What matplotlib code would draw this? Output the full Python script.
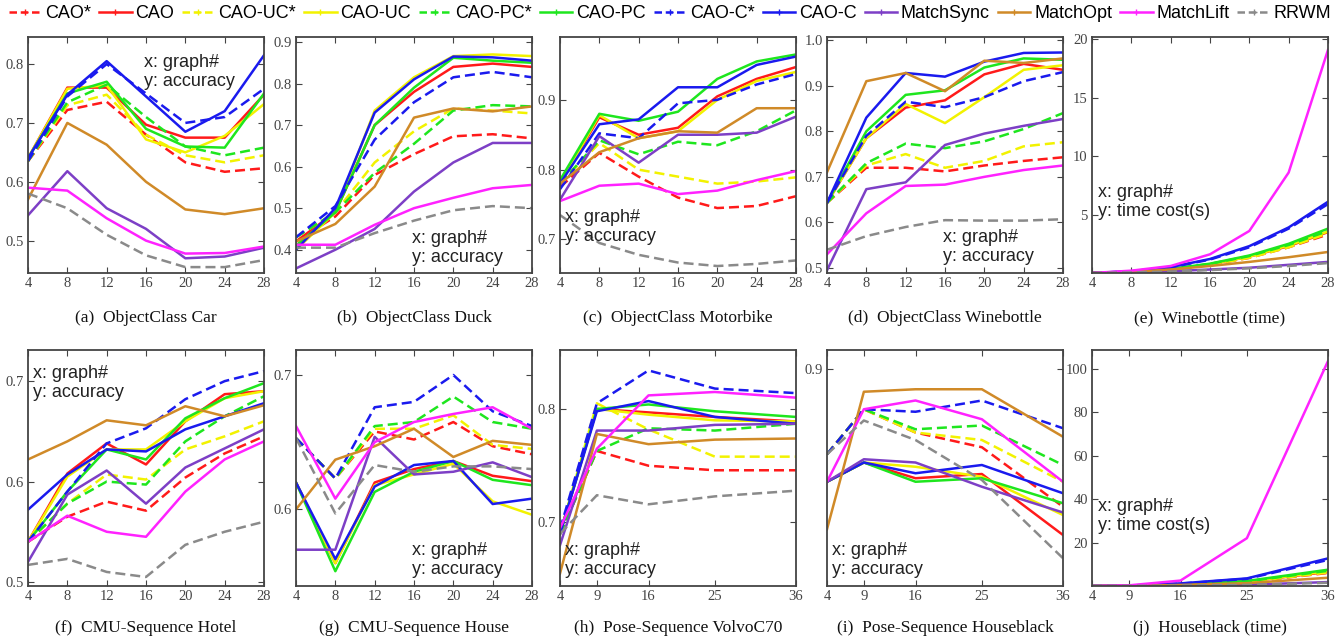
# Accuracy / time curves for multi-graph matching methods (10 panels)
import matplotlib
matplotlib.use('Agg')
import matplotlib.pyplot as plt
from matplotlib.lines import Line2D
from matplotlib.ticker import FormatStrFormatter

# series order: CAO*, CAO, CAO-UC*, CAO-UC, CAO-PC*, CAO-PC, CAO-C*, CAO-C,
#               MatchSync, MatchOpt, MatchLift, RRWM
names = ['CAO*', 'CAO', 'CAO-UC*', 'CAO-UC', 'CAO-PC*', 'CAO-PC', 'CAO-C*', 'CAO-C',
         'MatchSync', 'MatchOpt', 'MatchLift', 'RRWM']
colors = ['#ff1a1a', '#ff1a1a', '#f2f200', '#f2f200', '#1ee61e', '#1ee61e', '#1a1aee', '#1a1aee',
          '#7d3fc6', '#d08a28', '#ff22ff', '#8a8a8a']
styles = ['--', '-', '--', '-', '--', '-', '--', '-', '-', '-', '-', '--']

x_obj = [4, 8, 12, 16, 20, 24, 28]
x_pose = [4, 9, 16, 25, 36]

car = [
    [0.635, 0.722, 0.736, 0.68, 0.633, 0.617, 0.623],
    [0.64, 0.76, 0.76, 0.697, 0.675, 0.675, 0.748],
    [0.635, 0.73, 0.748, 0.68, 0.645, 0.633, 0.645],
    [0.64, 0.758, 0.764, 0.672, 0.65, 0.678, 0.732],
    [0.635, 0.735, 0.765, 0.71, 0.66, 0.645, 0.658],
    [0.64, 0.75, 0.77, 0.69, 0.66, 0.658, 0.75],
    [0.635, 0.745, 0.80, 0.75, 0.70, 0.71, 0.758],
    [0.64, 0.748, 0.805, 0.745, 0.685, 0.72, 0.815],
    [0.543, 0.618, 0.555, 0.52, 0.47, 0.473, 0.488],
    [0.57, 0.70, 0.663, 0.60, 0.553, 0.545, 0.555],
    [0.59, 0.585, 0.538, 0.50, 0.478, 0.479, 0.49],
    [0.58, 0.555, 0.51, 0.475, 0.455, 0.455, 0.467],
]
duck = [
    [0.42, 0.48, 0.58, 0.63, 0.673, 0.678, 0.668],
    [0.42, 0.49, 0.70, 0.78, 0.84, 0.848, 0.84],
    [0.43, 0.49, 0.61, 0.685, 0.74, 0.735, 0.728],
    [0.40, 0.49, 0.735, 0.815, 0.866, 0.87, 0.866],
    [0.43, 0.49, 0.585, 0.655, 0.735, 0.748, 0.745],
    [0.41, 0.49, 0.70, 0.79, 0.862, 0.855, 0.85],
    [0.43, 0.505, 0.665, 0.755, 0.815, 0.828, 0.815],
    [0.40, 0.50, 0.73, 0.81, 0.865, 0.863, 0.855],
    [0.355, 0.40, 0.45, 0.54, 0.61, 0.657, 0.657],
    [0.42, 0.462, 0.552, 0.718, 0.74, 0.733, 0.745],
    [0.412, 0.412, 0.46, 0.50, 0.525, 0.548, 0.556],
    [0.405, 0.405, 0.44, 0.47, 0.495, 0.505, 0.50],
]
motorbike = [
    [0.775, 0.824, 0.79, 0.76, 0.745, 0.748, 0.762],
    [0.78, 0.875, 0.85, 0.86, 0.905, 0.93, 0.947],
    [0.78, 0.838, 0.80, 0.79, 0.78, 0.783, 0.789],
    [0.78, 0.878, 0.845, 0.855, 0.90, 0.927, 0.94],
    [0.78, 0.842, 0.822, 0.84, 0.835, 0.855, 0.885],
    [0.785, 0.88, 0.87, 0.883, 0.93, 0.955, 0.965],
    [0.772, 0.852, 0.845, 0.895, 0.90, 0.922, 0.937],
    [0.78, 0.865, 0.872, 0.918, 0.918, 0.95, 0.962],
    [0.757, 0.848, 0.81, 0.85, 0.85, 0.853, 0.876],
    [0.78, 0.825, 0.845, 0.855, 0.853, 0.888, 0.888],
    [0.755, 0.777, 0.78, 0.765, 0.77, 0.785, 0.798],
    [0.735, 0.695, 0.678, 0.667, 0.662, 0.665, 0.67],
]
winebottle = [
    [0.643, 0.72, 0.72, 0.712, 0.725, 0.735, 0.743],
    [0.643, 0.785, 0.852, 0.868, 0.925, 0.948, 0.935],
    [0.643, 0.725, 0.75, 0.72, 0.735, 0.767, 0.776],
    [0.643, 0.785, 0.86, 0.818, 0.875, 0.935, 0.945],
    [0.643, 0.73, 0.773, 0.763, 0.778, 0.805, 0.84],
    [0.643, 0.80, 0.88, 0.89, 0.94, 0.96, 0.957],
    [0.643, 0.79, 0.865, 0.853, 0.875, 0.91, 0.93],
    [0.643, 0.83, 0.928, 0.92, 0.953, 0.972, 0.973],
    [0.495, 0.673, 0.688, 0.77, 0.795, 0.812, 0.827],
    [0.71, 0.91, 0.928, 0.888, 0.955, 0.95, 0.96],
    [0.53, 0.62, 0.68, 0.683, 0.70, 0.715, 0.725],
    [0.54, 0.57, 0.59, 0.605, 0.604, 0.604, 0.607],
]
winebottle_time = [
    [0, 0.08, 0.28, 0.7, 1.3, 2.2, 3.3],
    [0, 0.1, 0.3, 0.75, 1.4, 2.3, 3.5],
    [0, 0.08, 0.28, 0.7, 1.3, 2.2, 3.4],
    [0, 0.1, 0.3, 0.75, 1.4, 2.35, 3.55],
    [0, 0.1, 0.33, 0.78, 1.45, 2.4, 3.6],
    [0, 0.1, 0.35, 0.8, 1.5, 2.5, 3.8],
    [0, 0.14, 0.48, 1.15, 2.2, 3.8, 5.9],
    [0, 0.15, 0.5, 1.2, 2.3, 3.9, 6.1],
    [0, 0.05, 0.15, 0.3, 0.45, 0.7, 0.95],
    [0, 0.1, 0.3, 0.6, 0.95, 1.35, 1.8],
    [0, 0.2, 0.6, 1.6, 3.6, 8.6, 19.1],
    [0, 0.05, 0.12, 0.25, 0.4, 0.6, 0.85],
]
hotel = [
    [0.54, 0.565, 0.58, 0.571, 0.604, 0.628, 0.645],
    [0.54, 0.608, 0.638, 0.617, 0.66, 0.687, 0.69],
    [0.54, 0.578, 0.607, 0.602, 0.632, 0.645, 0.66],
    [0.54, 0.605, 0.632, 0.632, 0.66, 0.683, 0.69],
    [0.54, 0.578, 0.60, 0.597, 0.64, 0.665, 0.685],
    [0.54, 0.59, 0.632, 0.622, 0.663, 0.683, 0.698],
    [0.54, 0.59, 0.638, 0.653, 0.682, 0.70, 0.71],
    [0.572, 0.607, 0.632, 0.63, 0.652, 0.665, 0.678],
    [0.52, 0.587, 0.611, 0.578, 0.614, 0.633, 0.652],
    [0.622, 0.64, 0.661, 0.656, 0.675, 0.665, 0.676],
    [0.54, 0.566, 0.55, 0.545, 0.59, 0.622, 0.64],
    [0.517, 0.523, 0.51, 0.505, 0.537, 0.55, 0.56],
]
house = [
    [0.653, 0.623, 0.658, 0.652, 0.665, 0.647, 0.641],
    [0.62, 0.56, 0.62, 0.63, 0.636, 0.625, 0.621],
    [0.653, 0.623, 0.66, 0.66, 0.67, 0.648, 0.645],
    [0.62, 0.56, 0.618, 0.626, 0.634, 0.606, 0.596],
    [0.653, 0.623, 0.662, 0.665, 0.684, 0.665, 0.66],
    [0.62, 0.554, 0.613, 0.628, 0.636, 0.622, 0.618],
    [0.653, 0.623, 0.676, 0.68, 0.70, 0.673, 0.662],
    [0.62, 0.563, 0.617, 0.633, 0.636, 0.604, 0.608],
    [0.57, 0.57, 0.654, 0.626, 0.628, 0.635, 0.624],
    [0.60, 0.637, 0.647, 0.66, 0.639, 0.651, 0.648],
    [0.662, 0.608, 0.65, 0.665, 0.671, 0.676, 0.66],
    [0.653, 0.597, 0.633, 0.628, 0.632, 0.632, 0.63],
]
volvo = [
    [0.69, 0.763, 0.75, 0.746, 0.746],
    [0.69, 0.80, 0.797, 0.793, 0.789],
    [0.69, 0.805, 0.782, 0.758, 0.758],
    [0.69, 0.80, 0.795, 0.79, 0.789],
    [0.69, 0.763, 0.783, 0.781, 0.787],
    [0.69, 0.80, 0.804, 0.798, 0.793],
    [0.694, 0.805, 0.834, 0.818, 0.814],
    [0.69, 0.798, 0.807, 0.793, 0.787],
    [0.68, 0.781, 0.781, 0.786, 0.787],
    [0.655, 0.778, 0.769, 0.773, 0.774],
    [0.695, 0.765, 0.812, 0.815, 0.81],
    [0.69, 0.724, 0.716, 0.723, 0.728],
]
houseblack = [
    [0.866, 0.884, 0.8747, 0.8688, 0.845],
    [0.855, 0.8627, 0.8564, 0.8581, 0.8337],
    [0.866, 0.884, 0.8747, 0.8717, 0.855],
    [0.855, 0.8627, 0.861, 0.857, 0.8417],
    [0.866, 0.884, 0.876, 0.8775, 0.8617],
    [0.855, 0.8627, 0.855, 0.8564, 0.8464],
    [0.866, 0.884, 0.883, 0.8875, 0.8764],
    [0.855, 0.8627, 0.8584, 0.8617, 0.8504],
    [0.855, 0.864, 0.8627, 0.853, 0.8427],
    [0.836, 0.891, 0.892, 0.892, 0.873],
    [0.855, 0.884, 0.8875, 0.880, 0.855],
    [0.866, 0.8795, 0.8717, 0.8557, 0.8244],
]
houseblack_time = [
    [0, 0.1, 0.6, 1.8, 6.0],
    [0, 0.1, 0.7, 2.0, 6.5],
    [0, 0.1, 0.6, 1.8, 6.2],
    [0, 0.1, 0.7, 2.0, 6.8],
    [0, 0.12, 0.75, 2.1, 7.0],
    [0, 0.15, 0.8, 2.3, 7.5],
    [0, 0.18, 1.1, 3.3, 12.0],
    [0, 0.2, 1.2, 3.5, 12.7],
    [0, 0.05, 0.2, 0.6, 1.8],
    [0, 0.1, 0.5, 1.3, 3.8],
    [0, 0.3, 2.5, 22, 103.5],
    [0, 0.05, 0.2, 0.5, 1.5],
]

captions = ['(a)  ObjectClass Car', '(b)  ObjectClass Duck', '(c)  ObjectClass Motorbike',
            '(d)  ObjectClass Winebottle', '(e)  Winebottle (time)',
            '(f)  CMU-Sequence Hotel', '(g)  CMU-Sequence House', '(h)  Pose-Sequence VolvoC70',
            '(i)  Pose-Sequence Houseblack', '(j)  Houseblack (time)']

# panel settings: data, x, ylim, yticks, label pos (axes fraction), ylabel text
panels = [
    (car, x_obj, (0.445, 0.846), [0.5, 0.6, 0.7, 0.8], (0.49, 0.85), 'accuracy'),
    (duck, x_obj, (0.344, 0.912), [0.4, 0.5, 0.6, 0.7, 0.8, 0.9], (0.49, 0.105), 'accuracy'),
    (motorbike, x_obj, (0.652, 0.99), [0.7, 0.8, 0.9], (0.02, 0.195), 'accuracy'),
    (winebottle, x_obj, (0.489, 1.007), [0.5, 0.6, 0.7, 0.8, 0.9, 1.0], (0.49, 0.11), 'accuracy'),
    (winebottle_time, x_obj, (0, 20.2), [5, 10, 15, 20], (0.025, 0.30), 'time cost(s)'),
    (hotel, x_obj, (0.496, 0.731), [0.5, 0.6, 0.7], (0.02, 0.86), 'accuracy'),
    (house, x_obj, (0.543, 0.7186), [0.6, 0.7], (0.49, 0.11), 'accuracy'),
    (volvo, x_pose, (0.644, 0.852), [0.7, 0.8], (0.02, 0.11), 'accuracy'),
    (houseblack, x_pose, (0.8133, 0.9077), [0.9], (0.02, 0.11), 'accuracy'),
    (houseblack_time, x_pose, (0, 108.6), [20, 40, 60, 80, 100], (0.025, 0.295), 'time cost(s)'),
]

W, H = 1340, 640
fig = plt.figure(figsize=(13.4, 6.4), dpi=100)
lefts = [28, 296, 560, 827, 1092]
tops = [37, 350]
aw, ah = 236, 236

serif = 'Liberation Serif'
sans = 'Liberation Sans'

for i, (data, xs, ylim, yt, tpos, ylab) in enumerate(panels):
    row, col = divmod(i, 5)
    ax = fig.add_axes([lefts[col] / W, 1 - (tops[row] + ah) / H, aw / W, ah / H])
    for j in range(len(names)):
        ax.plot(xs, data[j], color=colors[j], linestyle=styles[j], lw=1.8,
                dashes=(4, 2) if styles[j] == '--' else (None, None))
    ax.set_xlim(xs[0], xs[-1])
    ax.set_ylim(*ylim)
    ax.set_xticks(xs)
    ax.set_yticks(yt)
    if ylab == 'accuracy':
        ax.yaxis.set_major_formatter(FormatStrFormatter('%.1f'))
    ax.tick_params(direction='in', top=True, right=True, length=4, width=0.8,
                   colors='#444444', labelsize=10.5, pad=3)
    for lab in ax.get_xticklabels() + ax.get_yticklabels():
        lab.set_fontfamily(serif)
    for s in ax.spines.values():
        s.set_color('#444444')
        s.set_linewidth(1.3)
    ax.text(tpos[0], tpos[1], 'x: graph#\ny: ' + ylab, transform=ax.transAxes,
            fontsize=13, family=sans, color='#222222', va='center', ha='left',
            linespacing=1.15)
    cy = 318 if row == 0 else 628
    fig.text((lefts[col] + aw / 2) / W, 1 - cy / H, captions[i], ha='center', va='center',
             fontsize=12.5, family=serif, color='#111111')

handles = [Line2D([0], [0], color=colors[j], linestyle=styles[j], lw=1.8, marker='+',
                  markersize=4, dashes=(3, 1.5) if styles[j] == '--' else (None, None))
           for j in range(len(names))]
fig.legend(handles, names, loc='center', bbox_to_anchor=(0.5, 1 - 14 / H), ncol=12,
           frameon=False, prop={'family': sans, 'size': 13}, handlelength=1.8,
           handletextpad=0.2, columnspacing=0.45, borderaxespad=0, numpoints=1)

fig.savefig('out.png', dpi=100)
